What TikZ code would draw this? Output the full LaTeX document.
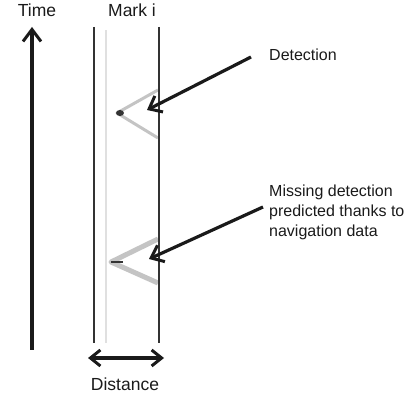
\documentclass[tikz,border=0pt]{standalone}
\usepackage{fontspec}
\setmainfont{Liberation Sans}
\usetikzlibrary{arrows.meta}
\definecolor{ink}{HTML}{1A1A1A}
\definecolor{rail}{HTML}{333333}
\definecolor{faint}{HTML}{E0E0E0}
\definecolor{echo}{HTML}{C4C4C4}
\tikzset{
  lbl/.style={font=\fontsize{17.5}{20}\selectfont, text=ink, inner sep=0pt},
  note/.style={font=\fontsize{16}{20}\selectfont, text=ink, inner sep=0pt, align=left},
  barb/.style={Straight Barb[length=11pt,width=18pt,line width=3pt]},
  bigarrow/.style={line width=3.2pt, draw=ink, -{Straight Barb[length=12pt,width=18pt,line width=3pt]}},
  dblarrow/.style={line width=3.2pt, draw=ink, {Straight Barb[length=10pt,width=16pt,line width=3pt]}-{Straight Barb[length=10pt,width=16pt,line width=3pt]}},
  ptrarrow/.style={line width=3.2pt, draw=ink, -{Straight Barb[length=11pt,width=18pt,line width=3pt]}},
  railline/.style={line width=1.7pt, draw=rail},
}
\begin{document}
\begin{tikzpicture}[x=1pt,y=-1pt]
\useasboundingbox (0,0) rectangle (410,398);
% labels
\node[lbl, anchor=base] (time) at (37,17) {Time};
\node[lbl, anchor=base] (mark) at (132,17) {Mark i};
\node[lbl, anchor=base] (dist) at (125,390) {Distance};
\node[note, anchor=base west] (det) at (269,61) {Detection};
\node[note, anchor=north west] (miss) at (269,184.5) {Missing detection\\predicted thanks to\\navigation data};
% time axis
\coordinate (tb) at (32,350);
\coordinate (tt) at (32,27);
\draw[bigarrow] (tb) -- (tt);
% rails
\coordinate (l1) at (94,27); \coordinate (l2) at (94,343);
\coordinate (r1) at (159,27); \coordinate (r2) at (159,343);
\coordinate (f1) at (106,30); \coordinate (f2) at (106,343);
\draw[line width=1.8pt, draw=faint] (f1) -- (f2);
\draw[railline] (l1) -- (l2);
% echoes
\coordinate (e1a) at (158,90); \coordinate (e1b) at (117,113); \coordinate (e1c) at (158,138);
\draw[draw=echo, line width=3pt, line join=round] (e1a) -- (e1b) -- (e1c);
\fill[rail] (120,113) ellipse (4pt and 3pt);
\coordinate (e2a) at (158,239); \coordinate (e2b) at (111,262); \coordinate (e2c) at (158,283);
\draw[draw=echo, line width=5pt, line join=round] (e2a) -- (e2b) -- (e2c);
\coordinate (d2a) at (111,262); \coordinate (d2b) at (123,262);
\draw[line width=1.8pt, draw=rail] (d2a) -- (d2b);
\draw[railline] (r1) -- (r2);
% distance
\coordinate (da) at (88,358); \coordinate (db) at (164,358);
\draw[dblarrow] (da) -- (db);
% pointers
\coordinate (p1s) at (251,57); \coordinate (p1t) at (147,110);
\draw[ptrarrow] (p1s) -- (p1t);
\coordinate (p2s) at (263,207); \coordinate (p2t) at (149,259);
\draw[ptrarrow] (p2s) -- (p2t);
\end{tikzpicture}
\end{document}
